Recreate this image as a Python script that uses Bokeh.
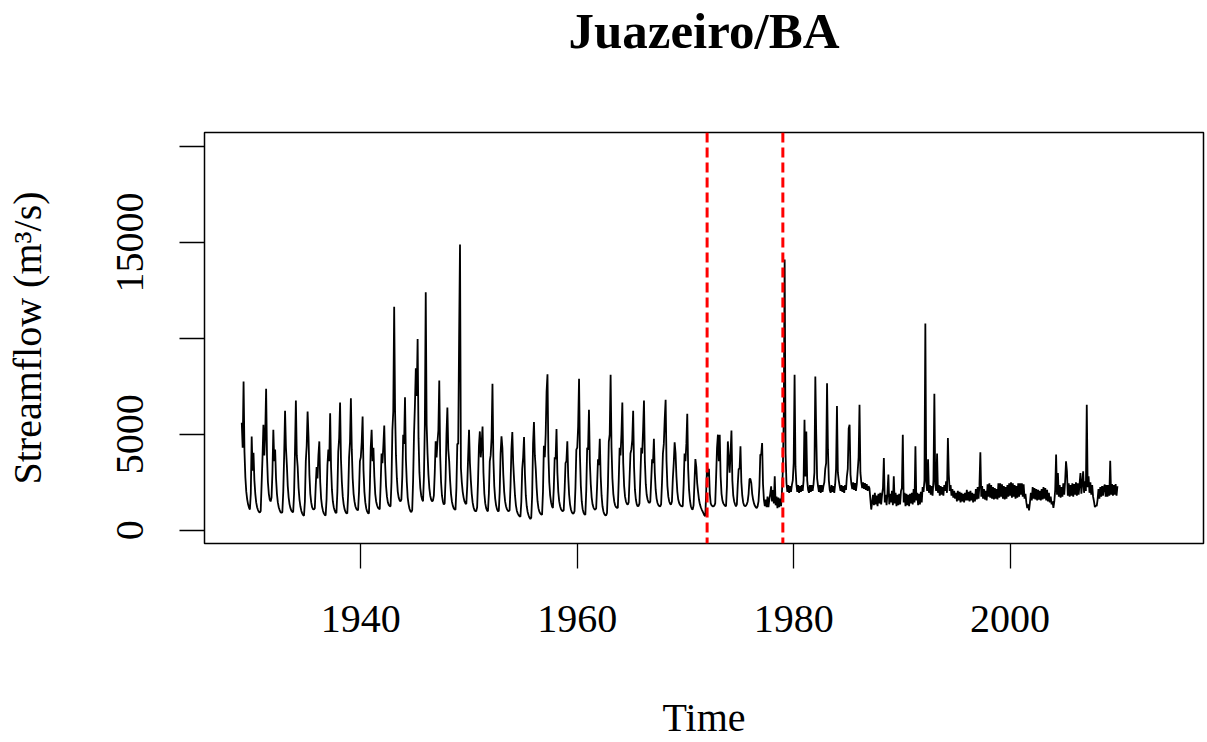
from bokeh.plotting import figure
from bokeh.models import Range1d, FixedTicker, Span, Title
from bokeh.embed import file_html
from bokeh.resources import INLINE

# ---- data: monthly streamflow (m3/s), Juazeiro/BA, Jan 1929 .. Dec 2009 ----
start_year = 1929
flow_1929_1938 = [
    5600, 4300, 7750, 4080, 2750, 2010, 1610, 1350, 1180, 1080, 1900, 4890,
    3100, 4040, 2600, 1900, 1450, 1200, 1050, 960, 920, 1000, 2400, 3800,
    5500, 3900, 5000, 7370, 3800, 2500, 1900, 1600, 1500, 1700, 3000, 5240,
    3600, 4200, 2700, 1900, 1450, 1200, 1050, 950, 900, 950, 2000, 3900,
    6220, 4300, 3400, 2300, 1700, 1350, 1150, 1020, 960, 940, 1900, 4100,
    6760, 3900, 3300, 2200, 1600, 1250, 1020, 880, 790, 760, 1500, 3600,
    4400, 6190, 4890, 2900, 1900, 1450, 1200, 1100, 1080, 1150, 2300, 3300,
    2700, 3900, 4630, 2500, 1650, 1250, 1020, 880, 800, 770, 1600, 3400,
    4200, 3600, 6100, 3300, 2100, 1500, 1200, 1030, 920, 900, 2000, 4100,
    4800, 6660, 3700, 2500, 1750, 1350, 1100, 960, 890, 870, 1900, 3800,
]
flow_1939_1948 = [
    4600, 6880, 4200, 2700, 1900, 1500, 1250, 1120, 1060, 1050, 2000, 3600,
    3800, 4600, 5930, 3100, 2000, 1450, 1150, 980, 890, 870, 2200, 4300,
    5240, 3600, 4300, 2800, 1900, 1500, 1300, 1180, 1120, 1100, 2400, 4000,
    3500, 4400, 5460, 3400, 2300, 1750, 1450, 1320, 1260, 1250, 2500, 5200,
    6190, 11650, 6200, 3900, 2700, 2000, 1700, 1560, 1510, 1600, 2800, 4980,
    4500, 6930, 3700, 2500, 1700, 1350, 1120, 1000, 950, 1050, 2600, 5000,
    6500, 8440, 7000, 9970, 4800, 3000, 2200, 1800, 1600, 1510, 2800, 5500,
    12400, 5500, 4000, 2900, 2200, 1800, 1600, 1510, 1550, 1800, 3000, 4630,
    3800, 4600, 5200, 7800, 3900, 2500, 1800, 1500, 1340, 1400, 2700, 5000,
    6400, 4200, 3600, 2600, 1900, 1500, 1280, 1150, 1090, 1075, 2200, 4500,
]
flow_1949_1958 = [
    4500, 10000, 14890, 3240, 2500, 2000, 1700, 1500, 1400, 1370, 2300, 3800,
    5240, 3500, 2600, 1900, 1450, 1200, 1050, 990, 1000, 1200, 2600, 4400,
    5150, 3800, 4500, 5410, 3000, 1900, 1400, 1150, 1030, 990, 1900, 3600,
    3900, 4800, 7630, 3700, 2300, 1650, 1300, 1100, 1000, 990, 2000, 4000,
    4890, 4300, 2900, 2000, 1500, 1250, 1100, 1020, 990, 1050, 2300, 4200,
    5120, 3500, 2600, 1800, 1300, 1020, 880, 790, 730, 700, 1500, 3200,
    3800, 4860, 2900, 1800, 1250, 950, 780, 660, 590, 650, 1800, 4500,
    5640, 3900, 3200, 2200, 1500, 1150, 970, 880, 830, 815, 2000, 4400,
    3800, 5000, 7230, 8130, 4000, 2500, 1800, 1450, 1250, 1160, 2200, 3800,
    3700, 5270, 3000, 2000, 1500, 1250, 1100, 1030, 990, 1050, 2100, 3500,
]
flow_1959_1968 = [
    3600, 4630, 2800, 1850, 1350, 1080, 940, 870, 880, 1000, 2200, 4200,
    4300, 5400, 7890, 3900, 2300, 1500, 1100, 920, 830, 815, 2100, 4300,
    4200, 6280, 3500, 2400, 1700, 1350, 1180, 1100, 1075, 1150, 2300, 3700,
    3400, 4770, 2800, 1800, 1250, 980, 850, 790, 765, 900, 2300, 4600,
    5000, 8100, 4300, 2700, 1900, 1500, 1300, 1210, 1170, 1160, 2600, 4300,
    3900, 5000, 6660, 3500, 2300, 1750, 1500, 1380, 1340, 1450, 2700, 4000,
    4200, 4700, 6220, 3300, 2100, 1600, 1350, 1250, 1270, 1400, 2800, 4300,
    4000, 5200, 6760, 3600, 2400, 1850, 1600, 1470, 1420, 1500, 2600, 3700,
    3500, 4770, 3000, 2100, 1650, 1420, 1310, 1260, 1250, 1350, 2500, 4000,
    4500, 5790, 6800, 3600, 2300, 1750, 1500, 1380, 1340, 1500, 2700, 3500,
]
flow_1969_1978 = [
    4580, 4020, 2800, 2000, 1600, 1420, 1320, 1270, 1250, 1250, 2400, 4000,
    3600, 4500, 6070, 3200, 2100, 1550, 1250, 1120, 1075, 1300, 2500, 3710,
    3300, 2460, 2000, 1600, 1350, 1200, 1080, 980, 880, 780, 730, 2000,
    3500, 2800, 3200, 1900, 1400, 1300, 1250, 1250, 1280, 1400, 2800, 4300,
    4980, 3600, 4980, 2800, 1900, 1550, 1400, 1320, 1270, 1250, 2300, 4630,
    3800, 3000, 4000, 5200, 2600, 1800, 1500, 1350, 1250, 1350, 2400, 3200,
    3200, 4370, 2500, 1800, 1450, 1300, 1250, 1280, 1350, 1500, 1900, 2670,
    2670, 2460, 1900, 1600, 1400, 1270, 1200, 1160, 1250, 1500, 2300, 3940,
    3940, 4540, 2400, 1600, 1250, 1600, 1200, 1750, 1200, 1600, 1900, 2290,
    1500, 2100, 1400, 2810, 1300, 1750, 1150, 1700, 1200, 1650, 1250, 2000,
]
flow_1979_1988 = [
    3150, 6000, 14110, 4000, 2460, 2000, 2350, 1950, 2300, 2000, 2350, 2600,
    3500, 8100, 3300, 2400, 2000, 2350, 1950, 2300, 2000, 2350, 2050, 2600,
    5760, 2800, 5150, 2600, 2100, 1950, 2350, 2000, 2350, 2050, 2400, 3000,
    8010, 5000, 2700, 2300, 2000, 2350, 1950, 2350, 2000, 2300, 2500, 3200,
    3500, 7660, 4200, 2600, 2100, 1950, 2350, 2000, 2300, 1950, 2400, 3200,
    6480, 3000, 2600, 2300, 2050, 2350, 2000, 2300, 1950, 2350, 2100, 2800,
    3200, 5300, 5500, 2900, 2400, 2150, 2500, 2100, 2450, 2050, 2400, 3100,
    3800, 6540, 3000, 2500, 2200, 2500, 2150, 2450, 2100, 2400, 2050, 2300,
    2200, 1650, 1080, 1450, 1850, 1300, 1950, 1350, 1800, 1250, 1900, 1400,
    1950, 1350, 1850, 2200, 3760, 1450, 1850, 1300, 1950, 2900, 1350, 1900,
]
flow_1989_1998 = [
    1450, 2050, 1300, 2810, 1400, 1950, 1250, 1850, 1300, 1900, 1350, 2050,
    2200, 4980, 1450, 1950, 1250, 1900, 1300, 1850, 1250, 1900, 1400, 1950,
    1350, 2150, 1450, 4370, 1550, 1950, 1300, 1900, 1350, 2000, 1450, 2250,
    2000, 2600, 10780, 2500, 2050, 3700, 1950, 2350, 1850, 2300, 1800, 2600,
    7110, 2400, 2050, 4000, 1950, 2350, 1800, 2300, 1850, 2250, 1800, 2350,
    2050, 2550, 1950, 4800, 2900, 2050, 2350, 1800, 2150, 1700, 2050, 1650,
    1950, 1500, 2050, 1550, 2000, 1450, 1950, 1500, 1900, 1450, 1950, 1550,
    2100, 1550, 2000, 1500, 2050, 1550, 1950, 1450, 1900, 1500, 2150, 1600,
    2250, 1650, 2350, 4060, 1750, 2300, 1650, 2150, 1600, 2050, 1550, 2400,
    1750, 2450, 1700, 2350, 1650, 2250, 1600, 2200, 1650, 2150, 1600, 2450,
]
flow_1999_2009 = [
    1700, 2450, 1750, 2400, 1650, 2300, 1600, 2250, 1650, 2350, 1750, 2450,
    1800, 2500, 1700, 2450, 1750, 2350, 1650, 2300, 1700, 2450, 1750, 2450,
    1850, 2450, 1750, 2400, 1650, 1900, 1450, 1160, 1350, 1040, 1450, 1950,
    1550, 2250, 1650, 2200, 1600, 2150, 1550, 2100, 1600, 2050, 1550, 2150,
    1600, 2250, 1650, 2200, 1550, 2100, 1500, 1950, 1450, 1750, 1350, 1500,
    1160, 1500, 2100, 3940, 1850, 2980, 1750, 2350, 1700, 2250, 1750, 2450,
    1850, 2550, 3590, 3070, 1800, 2450, 1750, 2350, 1800, 2450, 1750, 2400,
    1850, 2500, 1800, 2450, 1850, 2400, 2980, 1900, 2450, 3070, 1950, 2550,
    2050, 6540, 2250, 2810, 1950, 2500, 1850, 2350, 1750, 1500, 1210, 1300,
    1250, 1600, 2150, 1650, 2250, 1750, 2300, 1800, 2250, 2380, 1750, 2350,
    1750, 2350, 1800, 3620, 1850, 2400, 1800, 2350, 1850, 2400, 1800, 2300,
]
breaks = [1972.0, 1979.0]            # red dashed change points
x_ticks = [1940, 1960, 1980, 2000]
y_ticks = [0, 5000, 10000, 15000, 20000]
y_tick_labels = {0: "0", 5000: "5000", 10000: "", 15000: "15000", 20000: ""}

flow = (flow_1929_1938 + flow_1939_1948 + flow_1949_1958 + flow_1959_1968 +
        flow_1969_1978 + flow_1979_1988 + flow_1989_1998 + flow_1999_2009)
time = [start_year + i / 12.0 for i in range(len(flow))]

FONT = "Liberation Serif"

p = figure(width=1207, height=742, output_backend="svg", toolbar_location=None,
           x_range=Range1d(1925.556, 2017.87), y_range=Range1d(-691, 20728),
           min_border_left=204, min_border_right=4, min_border_top=132,
           min_border_bottom=198, background_fill_color="white",
           border_fill_color="white")

p.xgrid.visible = False
p.ygrid.visible = False
p.outline_line_color = "black"
p.outline_line_width = 1.5

p.line(time, flow, color="black", line_width=1.8)

for b in breaks:
    p.add_layout(Span(location=b, dimension="height", line_color="#ff0000",
                      line_width=3, line_dash="10 5"))

# axes
p.xaxis.ticker = FixedTicker(ticks=x_ticks)
p.yaxis.ticker = FixedTicker(ticks=y_ticks)
p.yaxis.major_label_overrides = y_tick_labels
for ax in (p.xaxis, p.yaxis):
    ax.axis_line_color = None
    ax.major_tick_out = 25
    ax.major_tick_in = 0
    ax.minor_tick_out = 0
    ax.minor_tick_in = 0
    ax.major_tick_line_color = "black"
    ax.major_tick_line_width = 1.3
    ax.major_label_text_font = FONT
    ax.major_label_text_font_size = "40px"
    ax.major_label_text_color = "black"
    ax.axis_label_text_font = FONT
    ax.axis_label_text_font_size = "40px"
    ax.axis_label_text_font_style = "normal"
    ax.axis_label_text_color = "black"
p.xaxis.major_label_standoff = 37
p.yaxis.major_label_standoff = 36
p.yaxis.major_label_orientation = "vertical"

p.xaxis.axis_label = "Time"
p.xaxis.axis_label_standoff = 60
p.yaxis.axis_label = "Streamflow (m³/s)"
p.yaxis.axis_label_standoff = 65

# spacer between the frame and the title
p.add_layout(Title(text=" ", text_font_size="2px", standoff=70), "above")

p.title.text = "Juazeiro/BA"
p.title.align = "center"
p.title.text_font = FONT
p.title.text_font_size = "51px"
p.title.text_font_style = "bold"
p.title.text_color = "black"
p.title.standoff = 0

open("out.html", "w").write(file_html(p, INLINE))
